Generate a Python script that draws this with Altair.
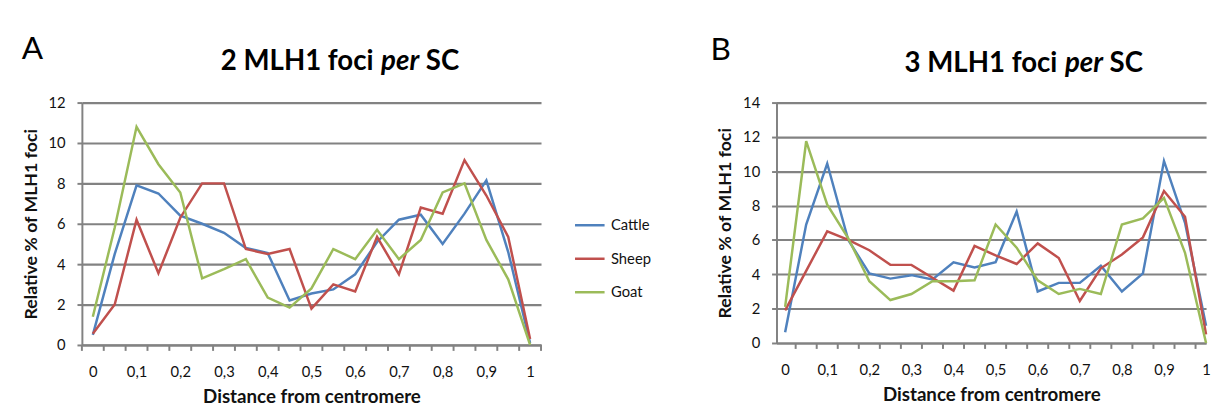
import altair as alt
import pandas as pd

# ---------------- data ----------------
categories = [0, 0.05, 0.1, 0.15, 0.2, 0.25, 0.3, 0.35, 0.4, 0.45, 0.5,
              0.55, 0.6, 0.65, 0.7, 0.75, 0.8, 0.85, 0.9, 0.95, 1]
series_names = ["Cattle", "Sheep", "Goat"]
series_colors = ["#4F81BD", "#C0504D", "#9BBB59"]

a_cattle = [0.5, 4.5, 7.9, 7.5, 6.4, 6.0, 5.55, 4.8, 4.55, 2.2, 2.55,
            2.75, 3.5, 5.1, 6.2, 6.45, 5.0, 6.5, 8.15, 4.6, 0.1]
a_sheep = [0.55, 2.0, 6.2, 3.55, 6.3, 8.0, 8.0, 4.75, 4.5, 4.75, 1.8,
           3.0, 2.65, 5.35, 3.5, 6.8, 6.5, 9.15, 7.4, 5.35, 0.3]
a_goat = [1.4, 5.8, 10.8, 8.95, 7.55, 3.3, 3.75, 4.25, 2.35, 1.85, 2.8,
          4.75, 4.25, 5.7, 4.25, 5.2, 7.55, 8.0, 5.2, 3.25, 0.0]

b_cattle = [0.63, 6.9, 10.45, 6.0, 4.05, 3.75, 3.95, 3.7, 4.7, 4.4, 4.7,
            7.65, 3.0, 3.5, 3.5, 4.5, 3.0, 4.05, 10.6, 7.0, 1.0]
b_sheep = [1.9, 4.2, 6.5, 6.0, 5.4, 4.55, 4.55, 3.8, 3.05, 5.65, 5.1,
           4.6, 5.8, 4.95, 2.45, 4.35, 5.15, 6.15, 8.85, 7.35, 0.5]
b_goat = [2.1, 11.75, 8.05, 6.1, 3.6, 2.5, 2.85, 3.6, 3.6, 3.65, 6.9,
          5.55, 3.65, 2.85, 3.15, 2.85, 6.9, 7.25, 8.45, 5.25, 0.0]

a_title = ["2 MLH1 foci", "per", "SC"]
b_title = ["3 MLH1 foci", "per", "SC"]
x_title = "Distance from centromere"
y_title = "Relative % of MLH1 foci"

FONT = "Lato"
GRID = "#828282"
TXT = "#111111"


def long_df(series):
    rows = []
    for name, vals in zip(series_names, series):
        for c, v in zip(categories, vals):
            rows.append({"distance": c, "value": v, "species": name})
    return pd.DataFrame(rows)


def panel(series, letter, title_parts, ymax, width, height, xdomain,
          show_legend, tpos, letter_pos, lpos):
    df = long_df(series)
    half = (categories[1] - categories[0]) / 2
    bounds = [round(categories[0] - half + i * 2 * half, 4) for i in range(len(categories) + 1)]
    bounds = [b for b in bounds if xdomain[0] - 1e-9 <= b <= xdomain[1] + 1e-9]
    xscale = alt.Scale(domain=xdomain, nice=False, zero=False)

    x_enc = alt.X(
        "distance:Q",
        scale=xscale,
        axis=alt.Axis(
            values=categories, grid=False, ticks=False, title=x_title,
            labelExpr="round(datum.value*100) % 10 == 0 ? replace(format(datum.value, '.1~f'), '.', ',') : ''",
            labelOverlap=False, labelFlush=False,
            domainColor=GRID, domainWidth=2,
            labelPadding=20, labelFont=FONT, labelFontSize=15, labelColor=TXT,
            titleFont=FONT, titleFontSize=19, titleFontWeight="bold", titleColor=TXT,
            titlePadding=8,
        ),
    )
    y_enc = alt.Y(
        "value:Q",
        scale=alt.Scale(domain=[0, ymax], nice=False),
        axis=alt.Axis(
            values=list(range(0, ymax + 1, 2)), grid=True, gridColor=GRID, gridWidth=2.2,
            domainColor=GRID, domainWidth=2, tickColor=GRID, tickWidth=2, tickSize=5,
            labelPadding=12, labelFont=FONT, labelFontSize=15, labelColor=TXT,
            title=y_title, titleFont=FONT, titleFontSize=18, titleFontWeight="bold",
            titleColor=TXT, titlePadding=8,
        ),
    )
    if show_legend:
        legend = alt.Legend(
            title=None, orient="none", legendX=lpos[0], legendY=lpos[1],
            symbolType="stroke", symbolSize=900, symbolStrokeWidth=2.5,
            labelFont=FONT, labelFontSize=15, labelColor=TXT, labelOffset=5,
            rowPadding=9, padding=0,
        )
    else:
        legend = None
    lines = alt.Chart(df).mark_line(strokeWidth=2.5).encode(
        x=x_enc, y=y_enc,
        color=alt.Color("species:N", scale=alt.Scale(domain=series_names, range=series_colors),
                        legend=legend),
        detail="species:N",
    )
    ticks = alt.Chart(pd.DataFrame({"b": bounds})).mark_rule(
        color=GRID, strokeWidth=2
    ).encode(x=alt.X("b:Q", scale=xscale), y=alt.value(height), y2=alt.value(height + 6))

    def txt(s, x, y, size, weight, style, align):
        return alt.Chart(pd.DataFrame({"t": [s]})).mark_text(
            font=FONT, fontSize=size, fontWeight=weight, fontStyle=style, align=align,
            baseline="alphabetic", color="black",
        ).encode(x=alt.value(x), y=alt.value(y), text="t:N")

    tx, ty = tpos
    layers = [
        ticks,
        lines,
        txt(title_parts[0], tx - 27, ty, 28, "bold", "normal", "right"),
        txt(title_parts[1], tx, ty, 28, "bold", "italic", "center"),
        txt(title_parts[2], tx + 26, ty, 28, "bold", "normal", "left"),
        txt(letter, letter_pos[0], letter_pos[1], 32, "normal", "normal", "left"),
    ]
    return alt.layer(*layers).properties(width=width, height=height)


A = panel([a_cattle, a_sheep, a_goat], "A", a_title, 12, 466, 246,
          [-0.025, 1.025], True, (323, -33), (-61, -44), (499, 108))
B = panel([b_cattle, b_sheep, b_goat], "B", b_title, 14, 436, 244,
          [-0.0205, 1.0], False, (312, -31), (-67, -43), (0, 0))

chart = alt.hconcat(A, B, spacing=60).resolve_scale(
    color="independent", x="independent", y="independent"
).configure_view(stroke=None).properties(
    padding={"left": 14, "top": 23, "right": 0, "bottom": 0}
)

chart.save("out.html", embed_options={"renderer": "svg", "actions": False})
